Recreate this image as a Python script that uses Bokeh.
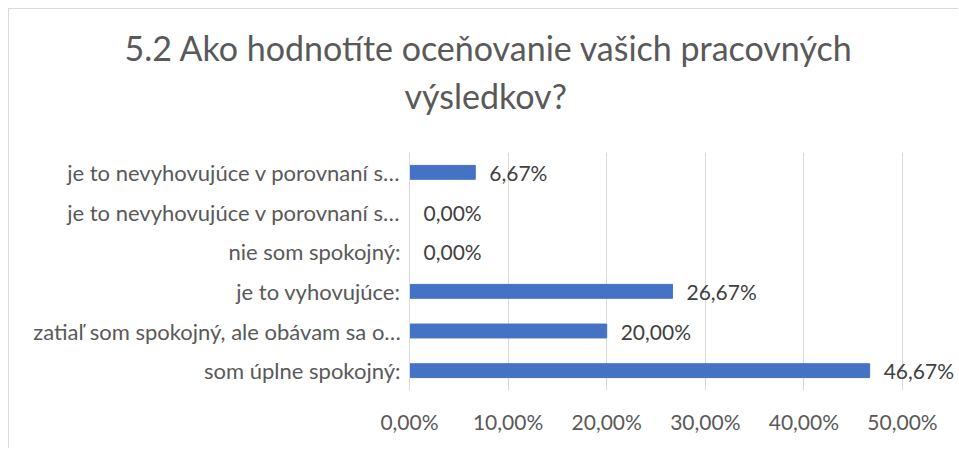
from bokeh.plotting import figure
from bokeh.models import Range1d, ColumnDataSource, LabelSet, FixedTicker, Title
from bokeh.core.properties import value
from bokeh.embed import file_html
from bokeh.resources import INLINE

title_lines = ["5.2 Ako hodnotíte oceňovanie vašich pracovných", "výsledkov?"]
categories = [
    "je to nevyhovujúce v porovnaní s…",
    "je to nevyhovujúce v porovnaní s…",
    "nie som spokojný:",
    "je to vyhovujúce:",
    "zatiaľ som spokojný, ale obávam sa o…",
    "som úplne spokojný:",
]
values = [6.67, 0.00, 0.00, 26.67, 20.00, 46.67]
x_ticks = [0, 10, 20, 30, 40, 50]
x_tick_labels = ["0,00%", "10,00%", "20,00%", "30,00%", "40,00%", "50,00%"]

FONT = "Lato"
TXT = "#595959"

OX, OY = 9, 9                      # page offset of the figure (margin + css border)
W, H = 959 - OX, 449 - OY
FL, FR, FT, FB = 409 - OX, 959 - OX, 152 - OY, 390 - OY   # frame in figure pixels
PX_PER_UNIT = (902 - 409) / 50.0
x_end = (FR - FL) / PX_PER_UNIT

n = len(categories)
ypos = [n - i for i in range(n)]   # first category on top
value_labels = [f"{v:.2f}%".replace(".", ",") for v in values]
source = ColumnDataSource(dict(y=ypos, val=values, lab=value_labels))

p = figure(
    width=W, height=H,
    y_range=Range1d(0.5, n + 0.5),
    x_range=Range1d(0, x_end),
    output_backend="svg", toolbar_location=None,
    min_border_left=FL, min_border_right=W - FR, min_border_top=FT, min_border_bottom=H - FB,
    margin=(8, 0, 0, 8),
)
p.styles = {"border-top": "1px solid #d9d9d9", "border-left": "1px solid #d9d9d9"}
p.outline_line_color = None
p.background_fill_color = "white"
p.border_fill_color = "white"

p.hbar(y="y", right="val", left=0, height=0.35, source=source, color="#4472C4")

labels = LabelSet(x="val", y="y", text="lab", source=source, x_offset=14,
                  text_baseline="middle", text_align="left",
                  text_font=value(FONT), text_font_size="21px", text_color="#404040")
p.add_layout(labels)

p.xaxis.ticker = FixedTicker(ticks=x_ticks)
p.xaxis.major_label_overrides = {t: l for t, l in zip(x_ticks, x_tick_labels)}
p.xaxis.axis_line_color = None
p.xaxis.major_tick_line_color = None
p.xaxis.minor_tick_line_color = None
p.xaxis.major_label_standoff = 12
p.xaxis.major_label_text_font = FONT
p.xaxis.major_label_text_font_size = "21px"
p.xaxis.major_label_text_color = TXT

p.yaxis.ticker = FixedTicker(ticks=ypos)
p.yaxis.major_label_overrides = {y: c for y, c in zip(ypos, categories)}
p.yaxis.axis_line_color = "#d9d9d9"
p.yaxis.major_tick_line_color = None
p.yaxis.minor_tick_line_color = None
p.yaxis.major_label_standoff = 3
p.yaxis.major_label_text_font = FONT
p.yaxis.major_label_text_font_size = "22px"
p.yaxis.major_label_text_color = TXT

p.xgrid.grid_line_color = "#d9d9d9"
p.ygrid.grid_line_color = None

# outer title line (first line)
p.title.text = title_lines[0]
p.title.align = "left"
p.title.offset = 124 - 409
p.title.standoff = -64
p.title.text_font = FONT
p.title.text_font_size = "34px"
p.title.text_font_style = "normal"
p.title.text_color = TXT
# inner title line (second line), nearest the plot area
p.add_layout(Title(text=title_lines[1], align="left", offset=404 - 409, standoff=74,
                   text_font=FONT, text_font_size="34px", text_font_style="normal",
                   text_color=TXT), "above")

open("out.html", "w").write(file_html(p, INLINE))
